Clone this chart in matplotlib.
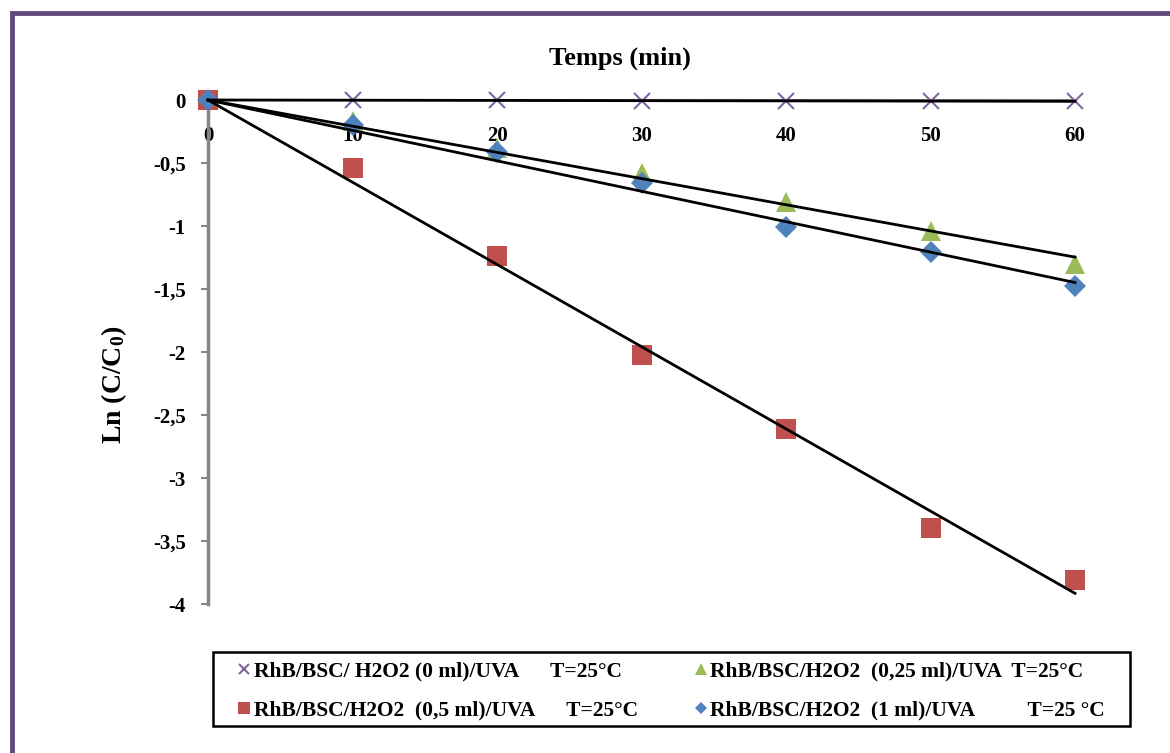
import numpy as np
import matplotlib
matplotlib.use('Agg')
import matplotlib.pyplot as plt
from matplotlib.patches import Rectangle

plt.rcParams['font.family'] = 'Liberation Serif'
plt.rcParams['font.weight'] = 'bold'
plt.rcParams['mathtext.fontset'] = 'custom'
plt.rcParams['mathtext.rm'] = 'Liberation Serif:bold'
plt.rcParams['mathtext.it'] = 'Liberation Serif:bold'
plt.rcParams['mathtext.bf'] = 'Liberation Serif:bold'

# ===== Data =====
temps = [0, 10, 20, 30, 40, 50, 60]
ln_0ml = [0, 0.0, -0.003, -0.005, -0.007, -0.009, -0.011]
ln_025ml = [0, -0.17, -0.38, -0.58, -0.81, -1.04, -1.30]
ln_05ml = [0, -0.54, -1.24, -2.02, -2.61, -3.40, -3.81]
ln_1ml = [0, -0.20, -0.41, -0.66, -1.01, -1.21, -1.48]

labels = ['RhB/BSC/ H2O2 (0 ml)/UVA      T=25°C',
          'RhB/BSC/H2O2  (0,25 ml)/UVA  T=25°C',
          'RhB/BSC/H2O2  (0,5 ml)/UVA      T=25°C',
          'RhB/BSC/H2O2  (1 ml)/UVA          T=25 °C']

fig = plt.figure(figsize=(11.7, 7.53), dpi=100)
ax = fig.add_axes([208/1170, 1-604/753, (1075-208)/1170, (604-100)/753])

# purple outer frame (cropped on right/bottom in the original)
fig.patches.append(Rectangle((12/1170, -0.1), 1.2, 1-13.5/753+0.1, transform=fig.transFigure,
                             fill=False, edgecolor='#604a7b', linewidth=3.5))

x = np.array(temps, dtype=float)
series = [(ln_0ml, 'x', '#8064a2', 12, labels[0]),
          (ln_025ml, '^', '#9bbb59', 14, labels[1]),
          (ln_05ml, 's', '#c0504d', 15, labels[2]),
          (ln_1ml, 'D', '#4f81bd', 11, labels[3])]

handles = []
for y, m, c, ms, lab in series:
    y = np.array(y)
    kw = dict(mew=1.5) if m == 'x' else dict(mew=0)
    h, = ax.plot(x, y, ls='none', marker=m, color=c, ms=ms, clip_on=False, zorder=3, label=lab, **kw)
    handles.append(h)
    # linear trendline forced through origin
    slope = np.sum(x * y) / np.sum(x * x)
    ax.plot([0, 60], [0, slope * 60], color='black', lw=2, zorder=4, clip_on=False)

ax.set_xlim(0, 60)
ax.set_ylim(-4, 0)
ax.set_xticks(temps)
ax.set_yticks([0, -0.5, -1, -1.5, -2, -2.5, -3, -3.5, -4])
ax.set_yticklabels(['0', '-0,5', '-1', '-1,5', '-2', '-2,5', '-3', '-3,5', '-4'])

for s in ['top', 'right']:
    ax.spines[s].set_visible(False)
ax.spines['bottom'].set_position(('data', 0))
ax.spines['bottom'].set_color('#868686')
ax.spines['bottom'].set_linewidth(1.5)
ax.spines['left'].set_color('#868686')
ax.spines['left'].set_linewidth(2.5)

ax.tick_params(axis='x', length=0, pad=19, labelsize=15)
ax.tick_params(axis='y', length=5, width=1.5, color='#868686', pad=11, labelsize=15)
for t in ax.get_xticklabels() + ax.get_yticklabels():
    t.set_fontweight('bold')

fig.text(620/1170, 1-58/753, 'Temps (min)', ha='center', va='center', fontsize=19, fontweight='bold')
fig.text(114/1170, 1-385/753, r'Ln (C/C$_0$)', ha='center', va='center', rotation=90,
         fontsize=20, fontweight='bold')

# legend box drawn separately so the padding matches the original
fig.patches.append(Rectangle((213/1170, 1-726/753), (1130-213)/1170, 74/753,
                             transform=fig.transFigure, fill=False, edgecolor='black', linewidth=1.8))
leg = fig.legend([handles[0], handles[2], handles[1], handles[3]],
                 [labels[0], labels[2], labels[1], labels[3]],
                 ncol=2, loc='upper left', bbox_to_anchor=(238/1170, 1-661/753),
                 frameon=False, fontsize=15.5,
                 handlelength=0.6, handletextpad=0.15, columnspacing=2.6, labelspacing=0.92,
                 markerscale=0.6, borderpad=0, borderaxespad=0)
for t in leg.get_texts():
    t.set_fontweight('bold')

fig.savefig('out.png', dpi=100)
